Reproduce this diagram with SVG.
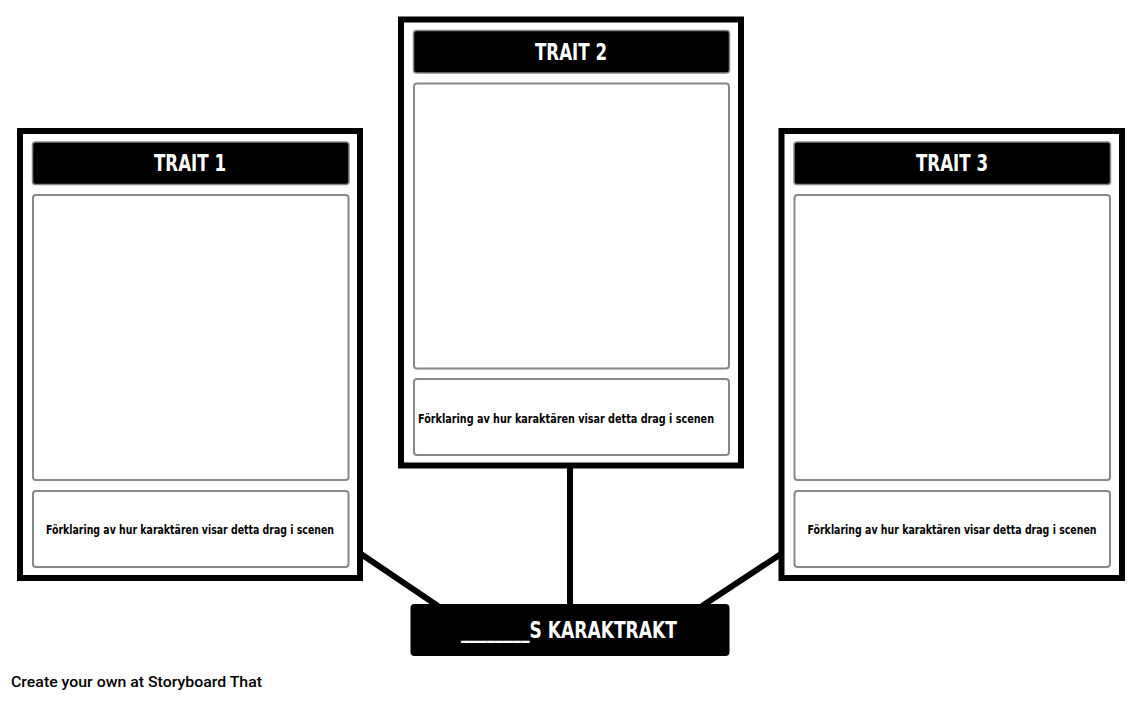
<svg xmlns="http://www.w3.org/2000/svg" width="1143" height="701" viewBox="0 0 1143 701">
<style>
.panel{fill:#fff;stroke:#000;stroke-width:6}
.hdr{fill:#000;stroke:#888;stroke-width:1.5}
.box{fill:#fff;stroke:#888;stroke-width:2}
.conn{stroke:#000;stroke-width:6;fill:none}
.ht{fill:#fff;font-family:"Liberation Sans Narrow","DejaVu Sans Condensed","DejaVu Sans",sans-serif;font-weight:bold;font-size:23px;text-anchor:middle}
.st{fill:#000;font-family:"Liberation Sans Narrow","DejaVu Sans Condensed","DejaVu Sans",sans-serif;font-weight:bold;font-size:12.5px;text-anchor:middle}
.ft{fill:#000;font-family:Roboto,"Liberation Sans",sans-serif;font-weight:500;font-size:15px}
</style>
<rect width="1143" height="701" fill="#fff"/>
<g id="connectors">
<line class="conn" x1="570" y1="466" x2="570" y2="606"/>
<line class="conn" x1="361" y1="554" x2="438" y2="606"/>
<line class="conn" x1="781" y1="554" x2="702" y2="606"/>
</g>
<g id="trait1">
<rect class="panel" x="20" y="131" width="340" height="447"/>
<rect class="hdr" x="32.5" y="142" width="316.5" height="42.5" rx="3"/>
<text class="ht" x="190" y="171" textLength="72" lengthAdjust="spacingAndGlyphs">TRAIT 1</text>
<rect class="box" x="33" y="195" width="315.5" height="285" rx="3"/>
<rect class="box" x="33" y="491" width="315.5" height="76" rx="3"/>
<text class="st" x="190" y="533.5" textLength="288" lengthAdjust="spacingAndGlyphs">Förklaring av hur karaktären visar detta drag i scenen</text>
</g>
<g id="trait2">
<rect class="panel" x="401" y="19.5" width="340" height="446"/>
<rect class="hdr" x="413.5" y="30.5" width="316" height="42.5" rx="3"/>
<text class="ht" x="571" y="60" textLength="72" lengthAdjust="spacingAndGlyphs">TRAIT 2</text>
<rect class="box" x="414" y="83.5" width="315" height="285" rx="3"/>
<rect class="box" x="414" y="379" width="315" height="76" rx="3"/>
<text class="st" x="566" y="423" textLength="296" lengthAdjust="spacingAndGlyphs">Förklaring av hur karaktären visar detta drag i scenen</text>
</g>
<g id="trait3">
<rect class="panel" x="781.5" y="131" width="340.5" height="447"/>
<rect class="hdr" x="794" y="142" width="316.5" height="42.5" rx="3"/>
<text class="ht" x="952" y="171" textLength="72" lengthAdjust="spacingAndGlyphs">TRAIT 3</text>
<rect class="box" x="794.5" y="195" width="315.5" height="285" rx="3"/>
<rect class="box" x="794.5" y="491" width="315.5" height="76" rx="3"/>
<text class="st" x="952" y="533.5" textLength="289" lengthAdjust="spacingAndGlyphs">Förklaring av hur karaktären visar detta drag i scenen</text>
</g>
<g id="center">
<rect x="410.5" y="604" width="319" height="52" rx="4" fill="#000"/>
<text class="ht" x="569" y="638" textLength="216" lengthAdjust="spacingAndGlyphs">________S KARAKTRAKT</text>
</g>
<text class="ft" x="11" y="687" textLength="251" lengthAdjust="spacingAndGlyphs">Create your own at Storyboard That</text>
</svg>
